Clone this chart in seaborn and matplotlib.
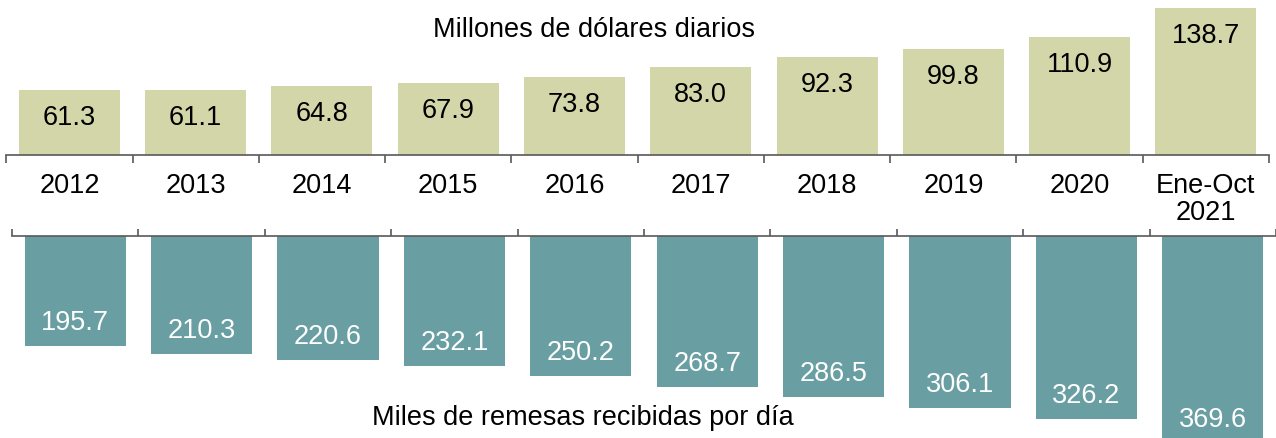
import matplotlib
matplotlib.use("Agg")
import matplotlib.pyplot as plt
import seaborn as sns
import pandas as pd
from matplotlib.ticker import FixedLocator

years = ["2012", "2013", "2014", "2015", "2016", "2017", "2018", "2019", "2020", "Ene-Oct\n2021"]
dollars = [61.3, 61.1, 64.8, 67.9, 73.8, 83.0, 92.3, 99.8, 110.9, 138.7]
remesas = [195.7, 210.3, 220.6, 232.1, 250.2, 268.7, 286.5, 306.1, 326.2, 369.6]
title_top = "Millones de dólares diarios"
title_bottom = "Miles de remesas recibidas por día"

sns.set_style("white")
plt.rcParams["font.family"] = ["Liberation Sans", "DejaVu Sans"]
plt.rcParams["text.color"] = "black"
plt.rcParams["xtick.color"] = "black"

OLIVE = "#D3D6A8"
TEAL = "#699FA2"
SPINE = "#595959"
FS = 19.5

W, H = 1276, 438
fig = plt.figure(figsize=(W / 100, H / 100), dpi=100)

ax1 = fig.add_axes([6.3 / W, 1 - 155 / H, (1269 - 6.3) / W, 155 / H])
ax2 = fig.add_axes([12 / W, 0, (1276 - 12) / W, (438 - 236) / H])

df = pd.DataFrame({"year": years, "dollars": dollars, "remesas": remesas})

sns.barplot(data=df, x="year", y="dollars", color=OLIVE, saturation=1, width=0.8,
            linewidth=0, ax=ax1)
sns.barplot(data=df, x="year", y="remesas", color=TEAL, saturation=1, width=0.8,
            linewidth=0, ax=ax2)

ax1.set_xlim(-0.5, len(years) - 0.5)
ax2.set_xlim(-0.5, len(years) - 0.5)
ax1.set_ylim(0, 155 / 1.06)
ax2.set_ylim(202 / 0.561, 0)

for ax in (ax1, ax2):
    ax.set_xlabel("")
    ax.set_ylabel("")
    ax.set_yticks([])
    for s in ax.spines.values():
        s.set_visible(False)
    ax.xaxis.set_minor_locator(FixedLocator([i - 0.5 for i in range(len(years) + 1)]))

ax1.spines["bottom"].set_visible(True)
ax1.spines["bottom"].set_color(SPINE)
ax1.spines["bottom"].set_linewidth(1.2)
ax1.tick_params(axis="x", which="minor", direction="out", length=5.5, width=1.2,
                color=SPINE, bottom=True)
ax1.tick_params(axis="x", which="major", length=0, pad=13, labelsize=FS,
                labelcolor="black")
ax1.set_xticks(range(len(years)))
ax1.set_xticklabels(years, linespacing=1.05)

ax2.spines["top"].set_visible(True)
ax2.spines["top"].set_color(SPINE)
ax2.spines["top"].set_linewidth(1.2)
ax2.xaxis.set_ticks_position("top")
ax2.tick_params(axis="x", which="minor", direction="out", length=5, width=1.2,
                color=SPINE, top=True, bottom=False)
ax2.tick_params(axis="x", which="major", length=0, labeltop=False, labelbottom=False)

for i, v in enumerate(dollars):
    ax1.annotate(f"{v:.1f}", (i, v), xytext=(0, -20), textcoords="offset points",
                 ha="center", va="center", fontsize=FS, color="black")
for i, v in enumerate(remesas):
    ax2.annotate(f"{v:.1f}", (i, v), xytext=(0, 16.5), textcoords="offset points",
                 ha="center", va="center", fontsize=FS, color="white",
                 annotation_clip=False)

fig.text(594 / W, 1 - 30 / H, title_top, ha="center", va="center", fontsize=FS,
         color="black")
fig.text(583 / W, 1 - 418 / H, title_bottom, ha="center", va="center", fontsize=FS,
         color="black")

fig.savefig("out.png", dpi=100)
